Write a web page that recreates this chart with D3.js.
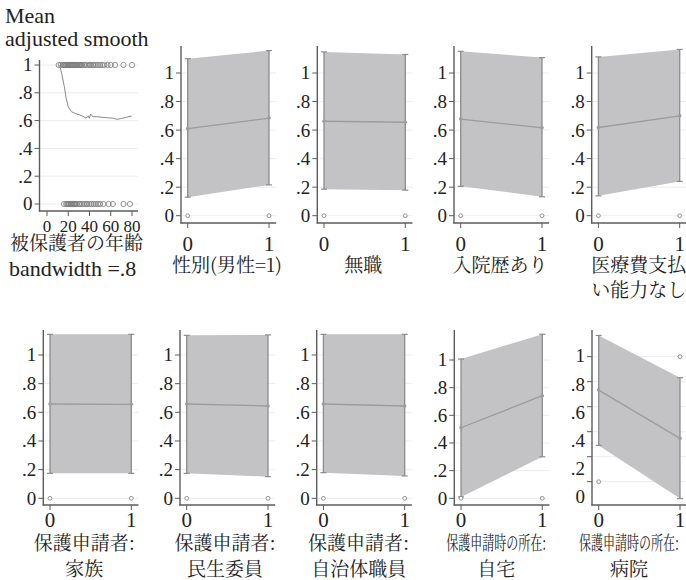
<!DOCTYPE html>
<html>
<head>
<meta charset="utf-8">
<script src="https://cdn.jsdelivr.net/npm/d3@7"></script>
<style>
  body { margin: 0; background: #fff; }
</style>
</head>
<body>
<svg id="chart" width="686" height="580"></svg>
<script>
// ---- Age panel: observed outcome (0/1) by age, plus running-line smooth ----
const agesOutcome1 = [11, 13, 15, 16, 17, 18, 19, 20, 21, 22, 23, 24, 25, 26, 27, 28, 29, 30, 31,
                      32, 33, 35, 36, 38, 40, 41, 43, 44, 46, 48, 50, 52, 54, 57, 60, 64, 72, 80];
const agesOutcome0 = [16, 18, 19, 20, 21, 22, 23, 24, 25, 26, 27, 28, 30, 31, 33, 35, 37, 38,
                      40, 42, 44, 46, 48, 50, 53, 58, 62, 72, 78];
const smoothAge   = [12, 14, 16.3, 18, 20, 23, 27, 31, 34, 36.7, 38.9, 39.8, 41.1, 43, 46.6, 52, 57, 62.4, 65.6, 70, 75, 79.7];
const smoothValue = [1.0, 0.93, 0.844, 0.76, 0.70, 0.664, 0.65, 0.64, 0.63, 0.617, 0.633, 0.617, 0.647, 0.628, 0.628, 0.624, 0.62, 0.617, 0.609, 0.615, 0.624, 0.633];
const ageTicks = [0, 20, 40, 60, 80];

// ---- Binary covariate panels: adjusted mean and band at 0 and 1 ----
const panelTitles = [
  ["性別(男性=1)"], ["無職"], ["入院歴あり"], ["医療費支払", "い能力なし"],
  ["保護申請者:", "家族"], ["保護申請者:", "民生委員"], ["保護申請者:", "自治体職員"],
  ["保護申請時の所在:", "自宅"], ["保護申請時の所在:", "病院"]
];
const meanAt0  = [0.610, 0.662, 0.677, 0.618, 0.658, 0.658, 0.658, 0.510, 0.733];
const meanAt1  = [0.684, 0.655, 0.616, 0.700, 0.656, 0.644, 0.644, 0.742, 0.347];
const upperAt0 = [1.100, 1.148, 1.152, 1.113, 1.144, 1.137, 1.144, 1.007, 1.170];
const upperAt1 = [1.157, 1.130, 1.108, 1.165, 1.144, 1.140, 1.144, 1.186, 0.832];
const lowerAt0 = [0.130, 0.186, 0.206, 0.139, 0.174, 0.174, 0.179, 0.010, 0.290];
const lowerAt1 = [0.216, 0.179, 0.133, 0.240, 0.174, 0.151, 0.156, 0.300, -0.135];
const observedAt0 = [0, 0, 0, 0, 0, 0, 0, 0, 0];
const observedAt1 = [0, 0, 0, 0, 0, 0, 0, 0, 1];
const binTicks = [0, 1];
const yTicks = [0, 0.2, 0.4, 0.6, 0.8, 1];

// ---- drawing ----
const SERIF = '"Liberation Serif", "Times New Roman", Tinos, serif';
const JP = '"Noto Serif CJK JP", "Noto Sans CJK JP", serif';
const INK = "#222";
const svg = d3.select("#chart");
const fmtY = d => d === 0 ? "0" : d === 1 ? "1" : d3.format(".1f")(d).replace(/^0/, "");

const COL = {
  axis: "#5c5c5c", grid: "#ececec", band: "#c3c3c6", whisker: "#8c8c8c",
  meanLine: "#9c9c9c", marker: "#7a7a7a"
};

function serifText(sel, size) {
  return sel.style("font-family", SERIF).attr("font-size", size).attr("fill", INK);
}
function jpText(sel, size) {
  return sel.style("font-family", JP).attr("font-size", size).attr("fill", INK);
}

function yAxisGroup(g, y, left, right, labelScale) {
  const ls = labelScale || y;
  g.selectAll(".grid").data(yTicks).join("line")
    .attr("x1", left).attr("x2", right)
    .attr("y1", d => y(d)).attr("y2", d => y(d))
    .attr("stroke", COL.grid).attr("stroke-width", 1);
  g.selectAll(".ytk").data(yTicks).join("line")
    .attr("x1", left - 5).attr("x2", left)
    .attr("y1", d => y(d)).attr("y2", d => y(d))
    .attr("stroke", COL.axis).attr("stroke-width", 1);
  serifText(g.selectAll(".ylab").data(yTicks).join("text"), 19)
    .attr("x", left - 7).attr("y", d => ls(d))
    .attr("dy", "0.34em")
    .attr("text-anchor", "end")
    .text(fmtY);
}

function axisLines(g, left, right, top, bottom) {
  g.append("line").attr("x1", left).attr("x2", left).attr("y1", top).attr("y2", bottom + 0.5)
    .attr("stroke", COL.axis).attr("stroke-width", 1.4);
  g.append("line").attr("x1", left - 0.7).attr("x2", right).attr("y1", bottom).attr("y2", bottom)
    .attr("stroke", COL.axis).attr("stroke-width", 1.4);
}

// Age panel
(function () {
  const g = svg.append("g");
  const left = 39.5, right = 138, top = 60, bottom = 211;
  const x = d3.scaleLinear().domain([0, 80]).range([47, 132]);
  const y = d3.scaleLinear().domain([0, 1]).range([204, 65]);
  yAxisGroup(g, y, left, right);
  axisLines(g, left, right, top, bottom);
  g.selectAll(".xtk").data(ageTicks).join("line")
    .attr("x1", d => x(d)).attr("x2", d => x(d)).attr("y1", bottom).attr("y2", bottom + 5)
    .attr("stroke", COL.axis);
  serifText(g.selectAll(".xlab").data(ageTicks).join("text"), 17)
    .attr("x", d => x(d)).attr("y", 232).attr("text-anchor", "middle")
    .text(d => d);
  const pts = agesOutcome1.map(a => [a, 1]).concat(agesOutcome0.map(a => [a, 0]));
  g.selectAll(".pt").data(pts).join("circle")
    .attr("cx", d => x(d[0])).attr("cy", d => y(d[1])).attr("r", 2.6)
    .attr("fill", "none").attr("stroke", COL.marker).attr("stroke-width", 0.8);
  const line = d3.line().x(d => x(d[0])).y(d => y(d[1]));
  g.append("path").datum(smoothAge.map((a, i) => [a, smoothValue[i]]))
    .attr("d", line).attr("fill", "none").attr("stroke", "#8a8a8a").attr("stroke-width", 1);
  serifText(svg.append("text"), 22).attr("x", 5).attr("y", 23).text("Mean");
  serifText(svg.append("text"), 22).attr("x", 5).attr("y", 46).text("adjusted smooth");
  jpText(svg.append("text"), 19).attr("x", 10).attr("y", 243).attr("dy", "0.36em").text("被保護者の年齢");
  serifText(svg.append("text"), 22).attr("x", 9).attr("y", 276).text("bandwidth =.8");
})();

// Layout of the binary panels: axis x-position, row, and per-panel vertical scale
const panelAxisX = [181, 317.3, 454, 591.7, 43.3, 180, 316.7, 454.3, 592];
const titleShift = [46, 46, 46, 47, 41, 45, 42, 42, 37];
const rowOf = [0, 0, 0, 0, 1, 1, 1, 1, 1];
const yRangeAt0 = [215.7, 215.7, 215.7, 215.7, 498.3, 498.3, 498.3, 498.3, 481.7];
const yRangeAt1 = [73, 73, 73, 73, 355, 355, 355, 360, 356.7];
const rowGeom = [
  { top: 46, bottom: 223, tickLab: 251, t1: 265, t2: 290 },
  { top: 330, bottom: 505, tickLab: 527, t1: 543, t2: 569 }
];

panelTitles.forEach((title, i) => {
  const g = svg.append("g");
  const rg = rowGeom[rowOf[i]];
  const left = panelAxisX[i];
  const x = d3.scaleLinear().domain([0, 1]).range([left + 6.7, left + 88]);
  const right = x(1.088);
  const y = d3.scaleLinear().domain([0, 1]).range([yRangeAt0[i], yRangeAt1[i]]);
  // the last panel keeps its tick labels on the row's common spacing
  const labelScale = i === 8 ? d3.scaleLinear().domain([0, 1]).range([497, 356]) : null;
  yAxisGroup(g, y, left, right, labelScale);

  // confidence band
  const band = [[0, upperAt0[i]], [1, upperAt1[i]], [1, lowerAt1[i]], [0, lowerAt0[i]]];
  g.append("path").datum(band)
    .attr("d", d3.line().x(d => x(d[0])).y(d => y(d[1])).curve(d3.curveLinearClosed))
    .attr("fill", COL.band).attr("stroke", "none");
  // whiskers with caps
  [[0, lowerAt0[i], upperAt0[i]], [1, lowerAt1[i], upperAt1[i]]].forEach(([v, lo, hi]) => {
    g.append("line").attr("x1", x(v)).attr("x2", x(v)).attr("y1", y(lo)).attr("y2", y(hi))
      .attr("stroke", COL.whisker).attr("stroke-width", 1.3);
    [lo, hi].forEach(b => g.append("line").attr("x1", x(v) - 3).attr("x2", x(v) + 3)
      .attr("y1", y(b)).attr("y2", y(b)).attr("stroke", COL.whisker).attr("stroke-width", 1.2));
  });
  // adjusted mean
  g.append("line").attr("x1", x(0)).attr("x2", x(1)).attr("y1", y(meanAt0[i])).attr("y2", y(meanAt1[i]))
    .attr("stroke", COL.meanLine).attr("stroke-width", 1.3);
  [[0, meanAt0[i]], [1, meanAt1[i]]].forEach(([v, m]) =>
    g.append("circle").attr("cx", x(v)).attr("cy", y(m)).attr("r", 1.8).attr("fill", COL.meanLine));
  // observed points
  [[0, observedAt0[i]], [1, observedAt1[i]]].forEach(([v, o]) =>
    g.append("circle").attr("cx", x(v)).attr("cy", y(o)).attr("r", 1.9)
      .attr("fill", "#fff").attr("stroke", COL.marker).attr("stroke-width", 0.8));

  axisLines(g, left, right, rg.top, rg.bottom);
  g.selectAll(".xtk").data(binTicks).join("line")
    .attr("x1", d => x(d)).attr("x2", d => x(d)).attr("y1", rg.bottom).attr("y2", rg.bottom + 5)
    .attr("stroke", COL.axis);
  serifText(g.selectAll(".xlab").data(binTicks).join("text"), 21)
    .attr("x", d => x(d)).attr("y", rg.tickLab).attr("text-anchor", "middle")
    .text(d => d);

  // titles
  const cx = left + titleShift[i];
  title.forEach((t, k) => {
    const el = jpText(g.append("text"), 19)
      .attr("x", cx).attr("y", k === 0 ? rg.t1 : rg.t2).attr("dy", "0.36em")
      .attr("text-anchor", "middle").text(t);
    if (t === "保護申請時の所在:") el.attr("textLength", 100).attr("lengthAdjust", "spacingAndGlyphs");
  });
});
</script>
</body>
</html>
